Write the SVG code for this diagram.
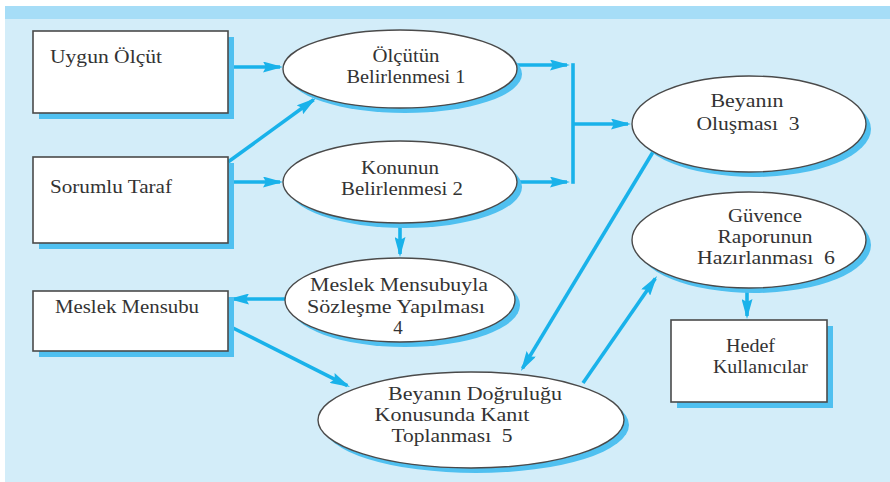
<svg xmlns="http://www.w3.org/2000/svg" width="890" height="482" viewBox="0 0 890 482">
  <style>
    .panel { fill: #d3edf9; }
    .band { fill: #a6ddf7; }
    .shadow { fill: #4fc0f0; }
    .box { fill: #ffffff; stroke: #4a4a4a; stroke-width: 1.6; }
    .oval { fill: #ffffff; stroke: #4a4a4a; stroke-width: 1.4; }
    text { font-family: 'Liberation Serif', 'Times New Roman', serif; font-size: 19px; fill: #333333; }
    .mid { text-anchor: middle; }
    .wire { fill: none; stroke: #19b2ea; stroke-width: 3.6; }
  </style>
  <defs>
    <marker id="head" viewBox="0 0 20 11" refX="17" refY="5.5" markerWidth="20" markerHeight="11" orient="auto" markerUnits="userSpaceOnUse">
      <path d="M0,0 L20,5.5 L0,11 L3,5.5 Z" fill="#19b2ea"/>
    </marker>
  </defs>

  <!-- background panel with top band -->
  <rect class="panel" x="5" y="6" width="885" height="476"/>
  <rect class="band" x="5" y="6" width="885" height="13"/>

  <!-- connectors -->
  <g id="connectors">
    <line class="wire" x1="229" y1="67" x2="280" y2="67" marker-end="url(#head)"/>
    <line class="wire" x1="228" y1="162" x2="313.6" y2="99.8" marker-end="url(#head)"/>
    <line class="wire" x1="229" y1="182" x2="280" y2="182" marker-end="url(#head)"/>
    <line class="wire" x1="517" y1="65" x2="567" y2="65" marker-end="url(#head)"/>
    <line class="wire" x1="517" y1="182" x2="567" y2="182" marker-end="url(#head)"/>
    <line class="wire" x1="573" y1="63.2" x2="573" y2="183.8"/>
    <line class="wire" x1="573" y1="124" x2="628" y2="124" marker-end="url(#head)"/>
    <line class="wire" x1="400" y1="223" x2="400" y2="254" marker-end="url(#head)"/>
    <line class="wire" x1="285" y1="299" x2="232" y2="299" marker-end="url(#head)"/>
    <line class="wire" x1="229" y1="326" x2="347.3" y2="385.6" marker-end="url(#head)"/>
    <line class="wire" x1="653" y1="152" x2="522.5" y2="368.4" marker-end="url(#head)"/>
    <line class="wire" x1="583" y1="383" x2="655.3" y2="278.5" marker-end="url(#head)"/>
    <line class="wire" x1="747" y1="289" x2="747" y2="316" marker-end="url(#head)"/>
  </g>

  <!-- rectangles -->
  <g id="uygun-olcut">
    <rect class="shadow" x="39" y="37" width="195" height="82"/>
    <rect class="box" x="33" y="31" width="195" height="82"/>
    <text x="50" y="63" textLength="112" lengthAdjust="spacingAndGlyphs">Uygun Ölçüt</text>
  </g>
  <g id="sorumlu-taraf">
    <rect class="shadow" x="39" y="163" width="195" height="86"/>
    <rect class="box" x="33" y="157" width="195" height="86"/>
    <text x="50" y="193" textLength="122" lengthAdjust="spacingAndGlyphs">Sorumlu Taraf</text>
  </g>
  <g id="meslek-mensubu">
    <rect class="shadow" x="39" y="297" width="195" height="60"/>
    <rect class="box" x="33" y="291" width="195" height="60"/>
    <text x="55" y="313" textLength="144" lengthAdjust="spacingAndGlyphs">Meslek Mensubu</text>
  </g>
  <g id="hedef-kullanicilar">
    <rect class="shadow" x="677" y="326" width="156" height="82"/>
    <rect class="box" x="671" y="320" width="156" height="82"/>
    <text x="726" y="352" textLength="49" lengthAdjust="spacingAndGlyphs">Hedef</text>
    <text x="713" y="373" textLength="95" lengthAdjust="spacingAndGlyphs">Kullanıcılar</text>
  </g>

  <!-- ellipses -->
  <g id="olcutun-belirlenmesi">
    <ellipse class="shadow" cx="405" cy="74" rx="117" ry="39"/>
    <ellipse class="oval" cx="400" cy="69" rx="117" ry="39"/>
    <text class="mid" x="406" y="62" textLength="67" lengthAdjust="spacingAndGlyphs">Ölçütün</text>
    <text class="mid" x="406" y="83" textLength="119" lengthAdjust="spacingAndGlyphs">Belirlenmesi 1</text>
  </g>
  <g id="konunun-belirlenmesi">
    <ellipse class="shadow" cx="405" cy="187" rx="117" ry="41"/>
    <ellipse class="oval" cx="400" cy="182" rx="117" ry="41"/>
    <text class="mid" x="400" y="174" textLength="78" lengthAdjust="spacingAndGlyphs">Konunun</text>
    <text class="mid" x="402" y="195" textLength="122" lengthAdjust="spacingAndGlyphs">Belirlenmesi 2</text>
  </g>
  <g id="beyanin-olusmasi">
    <ellipse class="shadow" cx="754" cy="129" rx="117" ry="48"/>
    <ellipse class="oval" cx="749" cy="124" rx="117" ry="48"/>
    <text class="mid" x="747" y="107" textLength="73" lengthAdjust="spacingAndGlyphs">Beyanın</text>
    <text class="mid" x="748" y="130" textLength="103" lengthAdjust="spacingAndGlyphs" xml:space="preserve">Oluşması  3</text>
  </g>
  <g id="guvence-raporu">
    <ellipse class="shadow" cx="754" cy="245" rx="117" ry="48"/>
    <ellipse class="oval" cx="749" cy="240" rx="117" ry="48"/>
    <text class="mid" x="765" y="222" textLength="74" lengthAdjust="spacingAndGlyphs">Güvence</text>
    <text class="mid" x="765" y="243" textLength="95" lengthAdjust="spacingAndGlyphs">Raporunun</text>
    <text class="mid" x="766" y="264" textLength="138" lengthAdjust="spacingAndGlyphs" xml:space="preserve">Hazırlanması  6</text>
  </g>
  <g id="sozlesme-yapilmasi">
    <ellipse class="shadow" cx="405" cy="305" rx="115" ry="42"/>
    <ellipse class="oval" cx="400" cy="300" rx="115" ry="42"/>
    <text class="mid" x="399" y="291" textLength="178" lengthAdjust="spacingAndGlyphs">Meslek Mensubuyla</text>
    <text class="mid" x="396" y="313" textLength="178" lengthAdjust="spacingAndGlyphs">Sözleşme Yapılması</text>
    <text class="mid" x="398" y="334">4</text>
  </g>
  <g id="kanit-toplanmasi">
    <ellipse class="shadow" cx="476" cy="425" rx="153" ry="48"/>
    <ellipse class="oval" cx="471" cy="420" rx="153" ry="48"/>
    <text class="mid" x="475" y="400" textLength="174" lengthAdjust="spacingAndGlyphs">Beyanın Doğruluğu</text>
    <text class="mid" x="452" y="421" textLength="155" lengthAdjust="spacingAndGlyphs">Konusunda Kanıt</text>
    <text class="mid" x="452" y="442" textLength="121" lengthAdjust="spacingAndGlyphs" xml:space="preserve">Toplanması  5</text>
  </g>
</svg>
